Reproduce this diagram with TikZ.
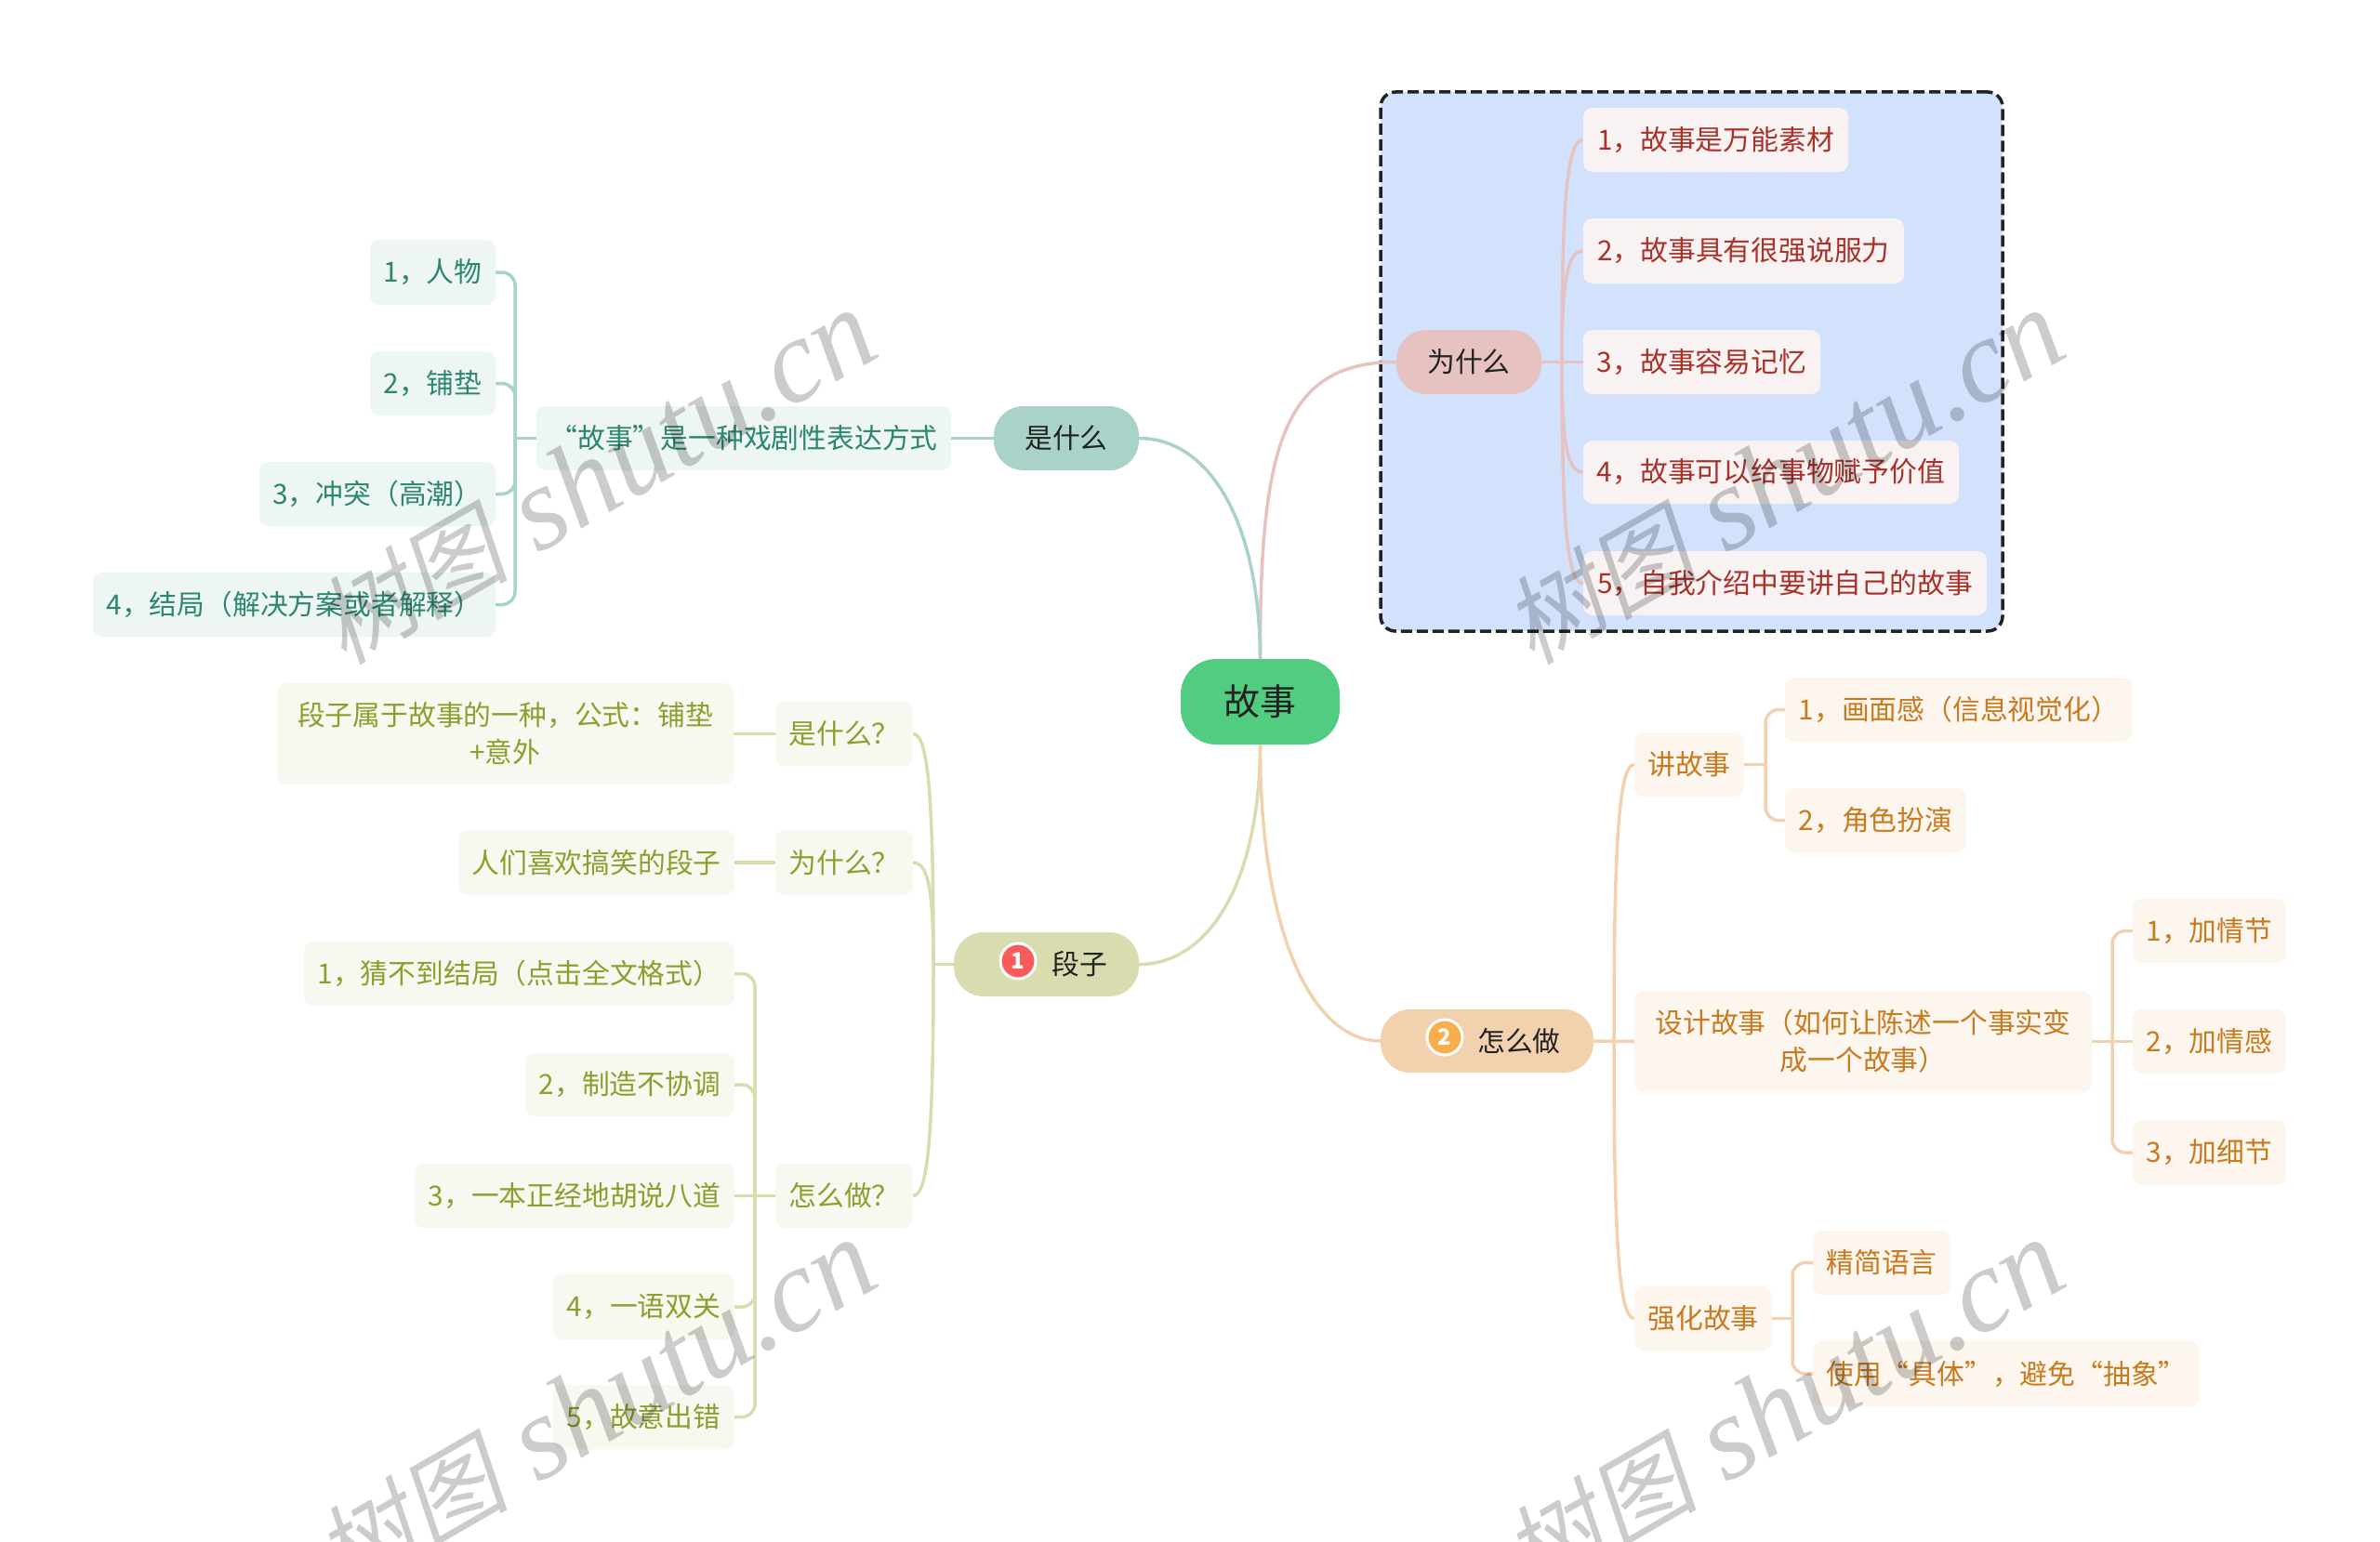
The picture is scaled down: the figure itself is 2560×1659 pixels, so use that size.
\documentclass[tikz,border=0pt]{standalone}
\usepackage{fontspec}
\setmainfont{Noto Sans CJK SC}
\newfontfamily\wmcjk[FakeSlant=0.2]{Noto Sans CJK SC}
\newfontfamily\wmlatin{Liberation Serif}
\definecolor{rootc}{HTML}{52CC80}
\definecolor{ink}{HTML}{222222}
\definecolor{redf}{HTML}{E6C2C0}\definecolor{redl}{HTML}{F8F2F2}\definecolor{redt}{HTML}{A8322A}
\definecolor{grnf}{HTML}{A9D3C8}\definecolor{grnl}{HTML}{EEF6F4}\definecolor{grnt}{HTML}{2C8670}
\definecolor{olvf}{HTML}{D8DCAE}\definecolor{olvl}{HTML}{F7F8EF}\definecolor{olvt}{HTML}{8E9E2E}
\definecolor{orgf}{HTML}{F2D2AE}\definecolor{orgl}{HTML}{FDF6EE}\definecolor{orgt}{HTML}{C87A1E}
\definecolor{panel}{HTML}{D2E2FD}
\definecolor{badgea}{HTML}{FA5A5A}
\definecolor{badgeb}{HTML}{F8AE4A}
\newcommand\bx[7]{\pgfmathsetmacro\cxx{(#3+#5)/2}\pgfmathsetmacro\cyy{(#4+#6)/2}\pgfmathsetmacro\ww{#5-#3}\pgfmathsetmacro\hh{#6-#4}\node[#2,minimum width=\ww pt,minimum height=\hh pt] (#1) at (\cxx,\cyy) {#7};}
\tikzset{
 basebox/.style={inner sep=0pt,align=center,font=\fontsize{29.8}{40}\selectfont},
 rootbox/.style={basebox,fill=rootc,text=ink,rounded corners=38pt,font=\fontsize{39}{45}\selectfont},
 redmain/.style={basebox,fill=redf,text=ink,rounded corners=32pt},
 grnmain/.style={basebox,fill=grnf,text=ink,rounded corners=32pt},
 olvmain/.style={basebox,fill=olvf,text=ink,rounded corners=32pt},
 orgmain/.style={basebox,fill=orgf,text=ink,rounded corners=32pt},
 redleaf/.style={basebox,fill=redl,text=redt,rounded corners=10pt},
 grnleaf/.style={basebox,fill=grnl,text=grnt,rounded corners=10pt},
 olvleaf/.style={basebox,fill=olvl,text=olvt,rounded corners=10pt},
 orgleaf/.style={basebox,fill=orgl,text=orgt,rounded corners=10pt},
 dashpanel/.style={draw=ink,fill=panel,line width=3.5pt,dash pattern=on 12pt off 5pt,rounded corners=16pt},
 redline/.style={draw=redf,line width=3.5pt},
 grnline/.style={draw=grnf,line width=3.5pt},
 olvline/.style={draw=olvf,line width=3.5pt},
 orgline/.style={draw=orgf,line width=3.5pt},
 elbow/.style={rounded corners=14pt},
 badge/.style={circle,draw=white,line width=3pt,minimum size=38pt,inner sep=0pt,text=white,font=\fontsize{24}{24}\selectfont\bfseries},
 wmark/.style={rotate=30,text=black,text opacity=0.2,inner sep=0pt},
}
\newcommand\wmtext{{\fontsize{104}{104}\selectfont\wmcjk 树图}\hspace{32pt}{\fontsize{128}{128}\selectfont\wmlatin\itshape shutu.cn}}
\begin{document}
\begin{tikzpicture}[x=1pt,y=-1pt]
\path[use as bounding box,fill=white] (0,0) rectangle (2560,1659);
\bx{panelbox}{dashpanel}{1485}{99}{2154}{679}{}
% centre
\bx{root}{rootbox}{1270}{709}{1441}{801}{故事}
% top right
\bx{why}{redmain}{1502}{355}{1658}{424}{为什么}
\bx{r1}{redleaf}{1703}{116}{1988}{185}{1，故事是万能素材}
\bx{r2}{redleaf}{1703}{235}{2048}{305}{2，故事具有很强说服力}
\bx{r3}{redleaf}{1703}{355}{1958}{424}{3，故事容易记忆}
\bx{r4}{redleaf}{1703}{474}{2107}{542}{4，故事可以给事物赋予价值}
\bx{r5}{redleaf}{1703}{593}{2137}{662}{5，自我介绍中要讲自己的故事}
% top left
\bx{what}{grnmain}{1069}{437}{1225}{506}{是什么}
\bx{g0}{grnleaf}{577}{437}{1023}{506}{“故事”是一种戏剧性表达方式}
\bx{g1}{grnleaf}{398}{258}{533}{328}{1，人物}
\bx{g2}{grnleaf}{398}{378}{533}{447}{2，铺垫}
\bx{g3}{grnleaf}{279}{497}{533}{566}{3，冲突（高潮）}
\bx{g4}{grnleaf}{100}{616}{533}{685}{4，结局（解决方案或者解释）}
% bottom left
\bx{joke}{olvmain}{1026}{1003}{1225}{1072}{\hspace*{71pt}段子}
\node[badge,fill=badgea] (b1) at (1095,1034) {1};
\bx{o1}{olvleaf}{834}{755}{982}{824}{是什么？}
\bx{o1a}{olvleaf}{298}{735}{789}{844}{段子属于故事的一种，公式：铺垫\\+意外}
\bx{o2}{olvleaf}{834}{893}{982}{963}{为什么？}
\bx{o2a}{olvleaf}{493}{893}{790}{963}{人们喜欢搞笑的段子}
\bx{o3}{olvleaf}{834}{1252}{982}{1321}{怎么做？}
\bx{o31}{olvleaf}{327}{1013}{790}{1082}{1，猜不到结局（点击全文格式）}
\bx{o32}{olvleaf}{565}{1133}{790}{1201}{2，制造不协调}
\bx{o33}{olvleaf}{446}{1252}{790}{1321}{3，一本正经地胡说八道}
\bx{o34}{olvleaf}{595}{1371}{790}{1441}{4，一语双关}
\bx{o35}{olvleaf}{595}{1490}{790}{1559}{5，故意出错}
% bottom right
\bx{how}{orgmain}{1485}{1086}{1714}{1154}{\hspace*{69pt}怎么做}
\node[badge,fill=badgeb] (b2) at (1554,1116) {2};
\bx{p1}{orgleaf}{1758}{788}{1876}{857}{讲故事}
\bx{p11}{orgleaf}{1920}{729}{2294}{798}{1，画面感（信息视觉化）}
\bx{p12}{orgleaf}{1920}{848}{2115}{917}{2，角色扮演}
\bx{p2}{orgleaf}{1758}{1066}{2250}{1175}{设计故事（如何让陈述一个事实变\\成一个故事）}
\bx{p21}{orgleaf}{2294}{967}{2459}{1036}{1，加情节}
\bx{p22}{orgleaf}{2294}{1086}{2459}{1155}{2，加情感}
\bx{p23}{orgleaf}{2294}{1205}{2459}{1275}{3，加细节}
\bx{p3}{orgleaf}{1758}{1384}{1906}{1453}{强化故事}
\bx{p31}{orgleaf}{1950}{1324}{2098}{1393}{精简语言}
\bx{p32}{orgleaf}{1950}{1443}{2366}{1513}{使用“具体”，避免“抽象”}
% trunks
\coordinate (tg) at (554,471.5);
\coordinate (to) at (812,1286.5);
\coordinate (tp1) at (1899,822.5);
\coordinate (tp2) at (2272,1120);
\coordinate (tp3) at (1928,1418.5);
\coordinate (tw) at (1680,389.5);
\coordinate (tj) at (1004,1037.5);
\coordinate (th) at (1736,1120);
% root branches
\draw[redline] (root.north) .. controls (1355,480) and (1380,389.5) .. (why.west);
\draw[grnline] (root.north) .. controls (1355,560) and (1300,471.5) .. (what.east);
\draw[olvline] (root.south) .. controls (1355,950) and (1300,1037.5) .. (joke.east);
\draw[orgline] (root.south) .. controls (1355,1000) and (1410,1120) .. (how.west);
% red fan
\draw[redline] (why.east) -- (r3.west);
\draw[redline] (tw) .. controls (1680,222) and (1685,150.5) .. (r1.west);
\draw[redline] (tw) .. controls (1680,306) and (1685,270) .. (r2.west);
\draw[redline] (tw) .. controls (1680,473) and (1685,508) .. (r4.west);
\draw[redline] (tw) .. controls (1680,557) and (1685,627.5) .. (r5.west);
% green
\draw[grnline] (what.west) -- (g0.east);
\draw[grnline] (g0.west) -- (tg);
\draw[grnline,elbow] (tg) |- (g1.east);
\draw[grnline,elbow] (tg) |- (g2.east);
\draw[grnline,elbow] (tg) |- (g3.east);
\draw[grnline,elbow] (tg) |- (g4.east);
% olive
\draw[olvline] (joke.west) -- (tj);
\draw[olvline] (tj) .. controls (1004,864) and (999,789.5) .. (o1.east);
\draw[olvline] (tj) .. controls (1004,961) and (999,928) .. (o2.east);
\draw[olvline] (tj) .. controls (1004,1212) and (999,1286.5) .. (o3.east);
\draw[olvline] (o1.west) -- (o1a.east);
\draw[olvline] (o2.west) -- (o2a.east);
\draw[olvline] (o3.west) -- (o33.east);
\draw[olvline,elbow] (to) |- (o31.east);
\draw[olvline,elbow] (to) |- (o32.east);
\draw[olvline,elbow] (to) |- (o34.east);
\draw[olvline,elbow] (to) |- (o35.east);
% orange
\draw[orgline] (how.east) -- (p2.west);
\draw[orgline] (th) .. controls (1736,911) and (1741,822.5) .. (p1.west);
\draw[orgline] (th) .. controls (1736,1329) and (1741,1418.5) .. (p3.west);
\draw[orgline] (p1.east) -- (tp1);
\draw[orgline,elbow] (tp1) |- (p11.west);
\draw[orgline,elbow] (tp1) |- (p12.west);
\draw[orgline] (p2.east) -- (p22.west);
\draw[orgline,elbow] (tp2) |- (p21.west);
\draw[orgline,elbow] (tp2) |- (p23.west);
\draw[orgline] (p3.east) -- (tp3);
\draw[orgline,elbow] (tp3) |- (p31.west);
\draw[orgline,elbow] (tp3) |- (p32.west);
% watermarks
\begin{scope}
\clip (0,0) rectangle (2560,1659);
\node[wmark] (w1) at (641,514) {\wmtext};
\node[wmark] (w2) at (1919,514) {\wmtext};
\node[wmark] (w3) at (641,1514) {\wmtext};
\node[wmark] (w4) at (1919,1514) {\wmtext};
\end{scope}
\end{tikzpicture}
\end{document}
